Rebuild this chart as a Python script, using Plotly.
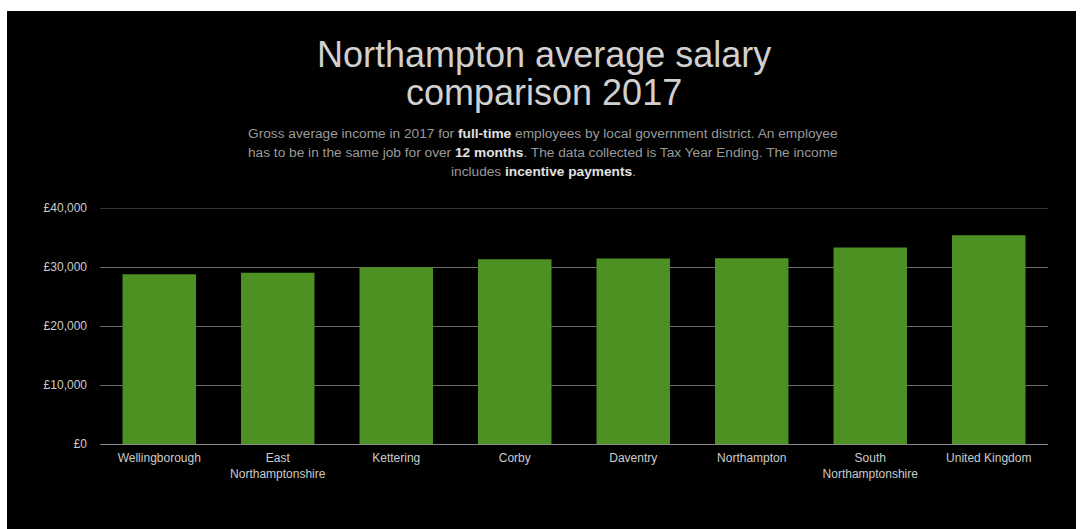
import plotly.graph_objects as go

districts = ["Wellingborough", "East<br>Northamptonshire", "Kettering", "Corby",
             "Daventry", "Northampton", "South<br>Northamptonshire", "United Kingdom"]
salaries = [28760, 29030, 29950, 31300, 31450, 31500, 33300, 35400]
y_ticks = [0, 10000, 20000, 30000, 40000]
y_tick_labels = ["£0", "£10,000", "£20,000", "£30,000", "£40,000"]

title_lines = ["Northampton average salary", "comparison 2017"]
B_ = "<b style='color:#e2e2e2'>"
subtitle_lines = [
    "Gross average income in 2017 for " + B_ + "full-time</b> employees by local government district. An employee",
    "has to be in the same job for over " + B_ + "12 months</b>. The data collected is Tax Year Ending. The income",
    "includes " + B_ + "incentive payments</b>.",
]

W, H = 1088, 529
L, R, T, B = 100, 40, 208, 85
pw, ph = W - L - R, H - T - B

def px_x(x):
    return (x - L) / pw

def px_y(y):
    return (H - B - y) / ph

fig = go.Figure(go.Bar(
    x=districts, y=salaries,
    marker=dict(color="#4e9123", line=dict(width=0)),
    hoverinfo="x+y",
))

fig.add_shape(type="rect", xref="paper", yref="paper", layer="below",
              x0=px_x(7), x1=px_x(1076), y0=px_y(529), y1=px_y(11),
              fillcolor="black", line=dict(width=0))
fig.add_shape(type="line", xref="paper", yref="y", layer="below",
              x0=0, x1=1, y0=y_ticks[-1], y1=y_ticks[-1],
              line=dict(color="#6a6a6a", width=1))

for yy, line in zip([54, 92], title_lines):
    fig.add_annotation(xref="paper", yref="paper", x=px_x(544), y=px_y(yy),
                       yanchor="middle", showarrow=False, align="center", text=line,
                       font=dict(family="Liberation Sans, Arial", size=36, color="#d0d0d0"))
for yy, line in zip([133.5, 152.5, 171.5], subtitle_lines):
    fig.add_annotation(xref="paper", yref="paper", x=px_x(543), y=px_y(yy),
                       yanchor="middle", showarrow=False, align="center", text=line,
                       font=dict(family="Liberation Sans, Arial", size=13.7, color="#9a9a9a"))

fig.update_layout(
    width=W, height=H,
    margin=dict(l=L, r=R, t=T, b=B),
    paper_bgcolor="white", plot_bgcolor="black",
    bargap=0.38,
    showlegend=False,
    font=dict(family="Liberation Sans, Arial", size=12, color="#cccccc"),
    xaxis=dict(showgrid=False, showline=False, ticks="", tickangle=0,
               ticklabelstandoff=5,
               tickfont=dict(size=12, color="#cccccc")),
    yaxis=dict(range=[0, 40000], tickvals=y_ticks, ticktext=y_tick_labels,
               gridcolor="#6a6a6a", gridwidth=1, zeroline=True, zerolinecolor="#8a8a8a",
               zerolinewidth=1, showline=False, ticks="", ticklen=0,
               ticklabelstandoff=12,
               tickfont=dict(size=12, color="#cccccc")),
)

fig.write_html("out.html")
